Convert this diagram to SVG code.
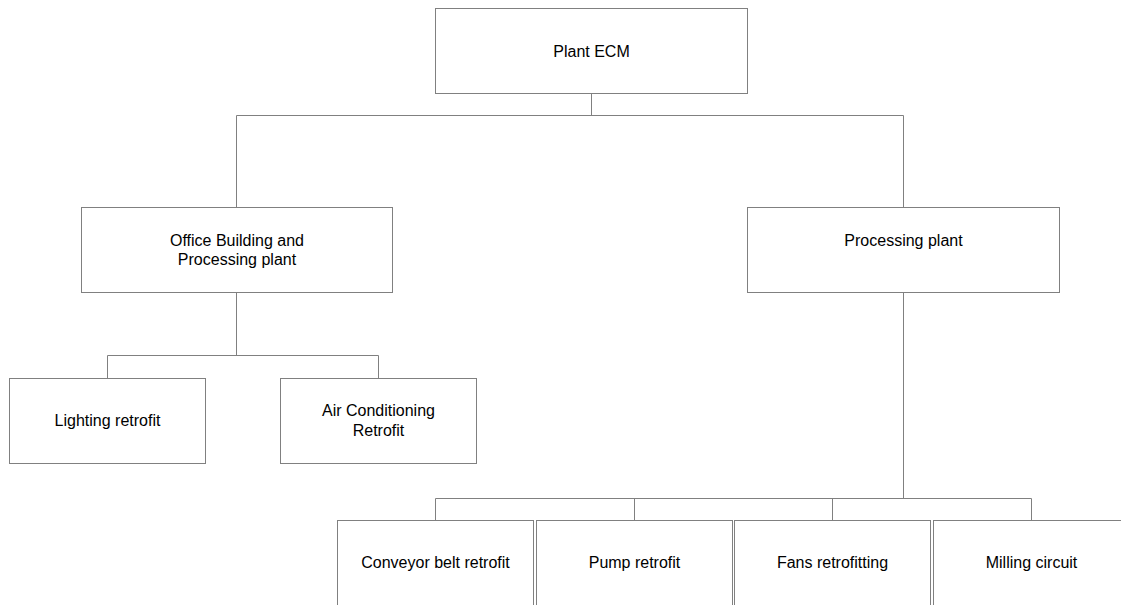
<svg xmlns="http://www.w3.org/2000/svg" width="1121" height="605" viewBox="0 0 1121 605">
<style>
.box{fill:#fff;stroke:#808080;stroke-width:1}
.ln{fill:none;stroke:#808080;stroke-width:1}
text{font-family:"Liberation Sans",Arial,sans-serif;font-size:16px;fill:#000;text-anchor:middle}
</style>
<rect width="1121" height="605" fill="#fff"/>
<g id="connectors">
<path class="ln" d="M591.5 93.5V115.5M236.5 115.5H903.5M236.5 115.5V207.5M903.5 115.5V207.5"/>
<path class="ln" d="M236.5 292.5V355.5M107.5 355.5H378.5M107.5 355.5V378.5M378.5 355.5V378.5"/>
<path class="ln" d="M903.5 292.5V498.5M435.5 498.5H1031.5M435.5 498.5V520.5M634.5 498.5V520.5M832.5 498.5V520.5M1031.5 498.5V520.5"/>
</g>
<g id="plant-ecm"><rect class="box" x="435.5" y="8.5" width="312" height="85"/><text x="591.5" y="57">Plant ECM</text></g>
<g id="office"><rect class="box" x="81.5" y="207.5" width="311" height="85"/><text x="237" y="245.5">Office Building and</text><text x="237" y="264.5">Processing plant</text></g>
<g id="processing"><rect class="box" x="747.5" y="207.5" width="312" height="85"/><text x="903.5" y="245.5">Processing plant</text></g>
<g id="lighting"><rect class="box" x="9.5" y="378.5" width="196" height="85"/><text x="107.5" y="426">Lighting retrofit</text></g>
<g id="aircon"><rect class="box" x="280.5" y="378.5" width="196" height="85"/><text x="378.5" y="416">Air Conditioning</text><text x="378.5" y="435.5">Retrofit</text></g>
<g id="conveyor"><rect class="box" x="337.5" y="520.5" width="196" height="100"/><text x="435.5" y="568">Conveyor belt retrofit</text></g>
<g id="pump"><rect class="box" x="536.5" y="520.5" width="196" height="100"/><text x="634.5" y="568">Pump retrofit</text></g>
<g id="fans"><rect class="box" x="734.5" y="520.5" width="196" height="100"/><text x="832.5" y="568">Fans retrofitting</text></g>
<g id="milling"><rect class="box" x="933.5" y="520.5" width="196" height="100"/><text x="1031.5" y="568">Milling circuit</text></g>
</svg>
